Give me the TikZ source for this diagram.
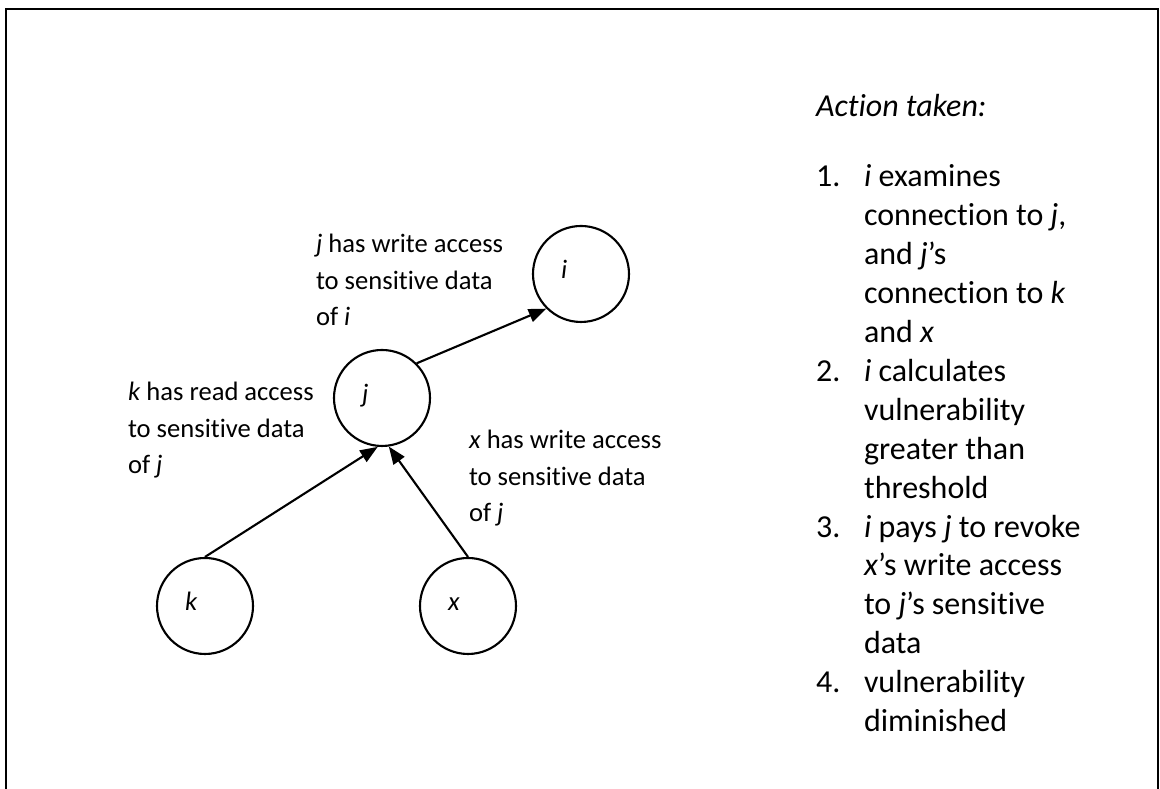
\documentclass[tikz,border=0pt]{standalone}
\usepackage{fontspec}
\setmainfont{Carlito}[Ligatures=NoCommon]
\usetikzlibrary{arrows.meta}
\newcommand{\lblfont}{\fontsize{7.57}{10.5}\selectfont}
\newcommand{\stepfont}{\fontsize{9.1}{11.07}\selectfont}
\begin{document}
\begin{tikzpicture}[>={Triangle[length=5pt,width=3.8pt]},line width=0.6pt,
  vertex/.style={circle,draw,minimum size=0.96cm,inner sep=0pt,text width=0.4cm,align=left,
    text height=3pt,text depth=0.7pt,font=\lblfont\itshape},
  lbl/.style={anchor=base west,align=left,inner sep=0pt,font=\lblfont}]
\useasboundingbox (0,0) rectangle (11.6,7.89);
\draw[line width=0.75pt] (0.06,-0.2) rectangle (11.58,7.80);

\node[vertex] (i) at (5.81,5.15) {i};
\node[vertex] (j) at (3.82,3.91) {j};
\node[vertex] (k) at (2.05,1.83) {k};
\node[vertex] (x) at (4.68,1.83) {x};

\draw[->] (j.45) -- (i.225);
\draw[->] (k.north) -- (j.265);
\draw[->] (x.north) -- (j.278);

% base anchor of a multi-line node sits on its last line
\node[lbl] (lblji) at (3.15,4.63) {\textit{j} has write access\\to sensitive data\\of \textit{i}};
\node[lbl] (lblkj) at (1.27,3.15) {\textit{k} has read access\\to sensitive data\\of \textit{j}};
\node[lbl] (lblxj) at (4.68,2.67) {\textit{x} has write access\\to sensitive data\\of \textit{j}};

\node[anchor=base west,inner sep=0pt,font=\stepfont\itshape] (action) at (8.15,6.72) {Action taken:};
\node[anchor=base west,align=left,inner sep=0pt,font=\stepfont] (steps) at (8.15,0.574) {%
\makebox[0.48cm][l]{1.}\textit{i} examines\\
\hspace*{0.48cm}connection to \textit{j},\\
\hspace*{0.48cm}and \textit{j}’s\\
\hspace*{0.48cm}connection to \textit{k}\\
\hspace*{0.48cm}and \textit{x}\\
\makebox[0.48cm][l]{2.}\textit{i} calculates\\
\hspace*{0.48cm}vulnerability\\
\hspace*{0.48cm}greater than\\
\hspace*{0.48cm}threshold\\
\makebox[0.48cm][l]{3.}\textit{i} pays \textit{j} to revoke\\
\hspace*{0.48cm}\textit{x}’s write access\\
\hspace*{0.48cm}to \textit{j}’s sensitive\\
\hspace*{0.48cm}data\\
\makebox[0.48cm][l]{4.}vulnerability\\
\hspace*{0.48cm}diminished};
\end{tikzpicture}
\end{document}
